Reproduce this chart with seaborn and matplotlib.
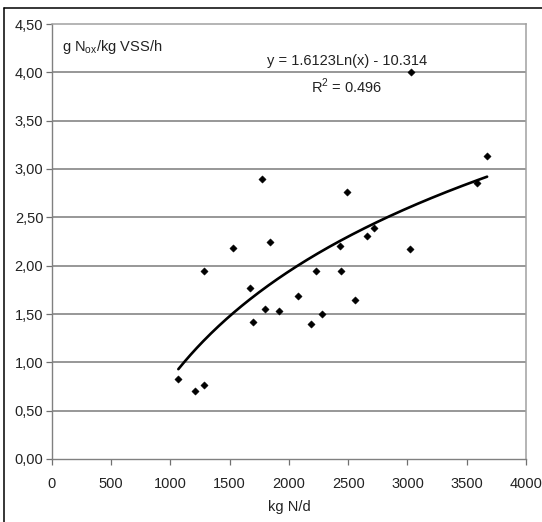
import numpy as np
import pandas as pd
import matplotlib
matplotlib.use("Agg")
import matplotlib.pyplot as plt
from matplotlib.lines import Line2D
import seaborn as sns

# ---- data ----
load_kgN_d = [1068, 1211, 1281, 1287, 1528, 1674, 1700, 1770, 1795, 1840,
              1921, 2076, 2185, 2231, 2278, 2433, 2438, 2494, 2556, 2660,
              2722, 3025, 3034, 3587, 3672]
rate_gNox = [0.83, 0.70, 0.77, 1.94, 2.18, 1.77, 1.42, 2.90, 1.55, 2.24,
             1.53, 1.69, 1.40, 1.95, 1.50, 2.20, 1.95, 2.76, 1.64, 2.31,
             2.39, 2.17, 4.00, 2.86, 3.13]
trend_a = 1.6123
trend_b = -10.314
r_squared = 0.496
x_ticks = [0, 500, 1000, 1500, 2000, 2500, 3000, 3500, 4000]
y_ticks = [0.0, 0.5, 1.0, 1.5, 2.0, 2.5, 3.0, 3.5, 4.0, 4.5]

df = pd.DataFrame({"x": load_kgN_d, "y": rate_gNox})
xs = np.linspace(min(load_kgN_d), max(load_kgN_d), 200)
trend = pd.DataFrame({"x": xs, "y": trend_a * np.log(xs) + trend_b})

sns.set_style("white")
plt.rcParams["font.family"] = ["Liberation Sans Narrow", "Liberation Sans", "DejaVu Sans"]

W, H = 542, 522
fig = plt.figure(figsize=(W / 100, H / 100), dpi=100)
ax = fig.add_axes([51.7 / W, 1 - 459 / H, (526 - 51.7) / W, (459 - 24) / H])

grid_c = "#7a7a7a"
for v in y_ticks[1:-1]:
    ax.axhline(v, color=grid_c, lw=1.1, zorder=1)

sns.lineplot(data=trend, x="x", y="y", ax=ax, color="black", lw=1.9,
             sort=False, estimator=None, zorder=3)
sns.scatterplot(data=df, x="x", y="y", ax=ax, marker="D", s=14,
                color="black", edgecolor="black", linewidth=0.3, zorder=4)

ax.set_xlim(0, 4000)
ax.set_ylim(0, 4.5)
ax.set_xticks(x_ticks)
ax.set_yticks(y_ticks)
ax.set_xticklabels([str(t) for t in x_ticks])
ax.set_yticklabels([f"{t:.2f}".replace(".", ",") for t in y_ticks])
ax.set_xlabel("")
ax.set_ylabel("")
ax.tick_params(axis="both", direction="out", length=4, width=0.9,
               color="#707070", labelsize=10.5, labelcolor="#222222")
ax.tick_params(axis="x", pad=9)
ax.tick_params(axis="y", pad=2)
ax.tick_params(bottom=True, left=True)

for side in ["left", "bottom"]:
    ax.spines[side].set_color("#808080")
    ax.spines[side].set_linewidth(1.0)
for side in ["top", "right"]:
    ax.spines[side].set_color("#a0a0a0")
    ax.spines[side].set_linewidth(1.1)

# annotations
ax.text(62 / W, 0, "", transform=fig.transFigure)
fig.text(62 / W, 1 - 47 / H, r"g N$_\mathregular{ox}$/kg VSS/h", fontsize=10.5,
         color="#222222", va="center", ha="left")
fig.text(347 / W, 1 - 61 / H, f"y = {trend_a}Ln(x) - {abs(trend_b)}", fontsize=10.5,
         color="#222222", va="center", ha="center")
fig.text(347 / W, 1 - 86 / H, f"R$^\\mathregular{{2}}$ = {r_squared}", fontsize=10.5,
         color="#222222", va="center", ha="center")
fig.text(289 / W, 1 - 507 / H, "kg N/d", fontsize=10.5, color="#222222",
         va="center", ha="center")

# outer frame (left and top edges visible)
fig.add_artist(Line2D([4 / W, 4 / W], [0, 1 - 8 / H], transform=fig.transFigure,
                      color="black", lw=1.1))
fig.add_artist(Line2D([4 / W, 1], [1 - 8 / H, 1 - 8 / H], transform=fig.transFigure,
                      color="black", lw=1.1))

fig.savefig("out.png", dpi=100)
